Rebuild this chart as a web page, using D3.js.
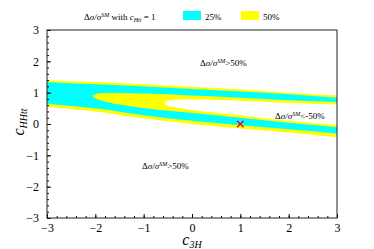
<!DOCTYPE html>
<html>
<head>
<meta charset="utf-8">
<script src="https://cdn.jsdelivr.net/npm/d3@7"></script>
<style>
  body { margin: 0; background: #fff; }
  svg text { font-family: "Liberation Serif", "Times New Roman", serif; fill: #000; }
</style>
</head>
<body>
<svg width="374" height="249"></svg>
<script>
// Contour boundaries (c_HHtt at given c_3H)
var c3H = [-3, -2, -1, 0, 1, 2, 3];
var yellowTop = [1.40, 1.34, 1.27, 1.19, 1.10, 1.00, 0.91];
var cyanTop = [1.33, 1.27, 1.20, 1.12, 1.04, 0.95, 0.84];
var cyanBottom = [0.65, 0.50, 0.28, 0.10, -0.04, -0.17, -0.30];
var yellowBottom = [0.55, 0.40, 0.18, 0.00, -0.14, -0.27, -0.42];

// inner 25% -> 50% tongue (yellow inside cyan)
var tongue25X = [-2.06, -2.0, -1.9, -1.5, -1, 0, 1, 2, 3];
var tongue25Top = [0.89, 0.95, 0.98, 0.99, 0.97, 0.91, 0.84, 0.76, 0.70];
var tongue25Bottom = [0.89, 0.81, 0.76, 0.62, 0.51, 0.35, 0.20, 0.04, -0.10];

// inner 50% tongue (white inside yellow)
var tongue50X = [-0.59, -0.5, -0.3, 0, 1, 2, 3];
var tongue50Top = [0.66, 0.75, 0.78, 0.78, 0.74, 0.67, 0.62];
var tongue50Bottom = [0.66, 0.58, 0.52, 0.45, 0.28, 0.10, -0.03];

var smPoint = [1, 0];
var tickValues = [-3, -2, -1, 0, 1, 2, 3];
var legendItems = [["25%", "#00ffff"], ["50%", "#ffff00"]];

var svg = d3.select("svg");
var x = d3.scaleLinear().domain([-3, 3]).range([47, 337]);
var y = d3.scaleLinear().domain([-3, 3]).range([218, 30]);

svg.append("clipPath").attr("id", "plotclip")
  .append("rect")
  .attr("x", x(-3)).attr("y", y(3))
  .attr("width", x(3) - x(-3)).attr("height", y(-3) - y(3));

var g = svg.append("g").attr("clip-path", "url(#plotclip)");

function band(xs, top, bottom) {
  return d3.area()
    .x(function (d, i) { return x(xs[i]); })
    .y0(function (d, i) { return y(bottom[i]); })
    .y1(function (d, i) { return y(top[i]); })
    .curve(d3.curveMonotoneX)(xs);
}

// layered fills: yellow (<50%), cyan (<25%), then tongues cut back out
g.append("path").attr("d", band(c3H, yellowTop, yellowBottom)).attr("fill", "#ffff00");
g.append("path").attr("d", band(c3H, cyanTop, cyanBottom)).attr("fill", "#00ffff");
g.append("path").attr("d", band(tongue25X, tongue25Top, tongue25Bottom)).attr("fill", "#ffff00");
g.append("path").attr("d", band(tongue50X, tongue50Top, tongue50Bottom)).attr("fill", "#ffffff");

// SM point
svg.append("path")
  .attr("d", d3.symbol(d3.symbolTimes, 30)())
  .attr("transform", "translate(" + x(smPoint[0]) + "," + y(smPoint[1]) + ")")
  .attr("fill", "none").attr("stroke", "#ff0000").attr("stroke-width", 1.3);

// axes: major + minor ticks, pointing inwards
var minor = d3.range(-3, 3.001, 0.2);

svg.append("g").attr("transform", "translate(0," + y(-3) + ")")
  .call(d3.axisBottom(x).tickValues(minor).tickSize(-2).tickFormat(""))
  .call(function (s) { s.select(".domain").remove(); });
svg.append("g").attr("transform", "translate(" + x(-3) + ",0)")
  .call(d3.axisLeft(y).tickValues(minor).tickSize(-2).tickFormat(""))
  .call(function (s) { s.select(".domain").remove(); });

var fmt = d3.format("d");
var xAxis = svg.append("g").attr("transform", "translate(0," + y(-3) + ")")
  .call(d3.axisBottom(x).tickValues(tickValues).tickFormat(fmt)
    .tickSizeInner(-4).tickSizeOuter(0).tickPadding(5));
var yAxis = svg.append("g").attr("transform", "translate(" + x(-3) + ",0)")
  .call(d3.axisLeft(y).tickValues(tickValues).tickFormat(fmt)
    .tickSizeInner(-4).tickSizeOuter(0).tickPadding(8));
[xAxis, yAxis].forEach(function (a) {
  a.attr("font-family", null);
  a.selectAll("text").attr("font-size", 12);
  a.select(".domain").remove();
});

svg.append("rect")
  .attr("x", x(-3)).attr("y", y(3))
  .attr("width", x(3) - x(-3)).attr("height", y(-3) - y(3))
  .attr("fill", "none").attr("stroke", "#222").attr("stroke-width", 1);

// axis titles
var xt = svg.append("text").attr("x", 192).attr("y", 245).attr("text-anchor", "middle");
xt.append("tspan").attr("font-style", "italic").attr("font-size", 16).text("c");
xt.append("tspan").attr("font-style", "italic").attr("font-size", 10).attr("dy", 3).text("3H");

var yt = svg.append("text").attr("transform", "translate(24,122) rotate(-90)").attr("text-anchor", "middle");
yt.append("tspan").attr("font-style", "italic").attr("font-size", 16).text("c");
yt.append("tspan").attr("font-style", "italic").attr("font-size", 10).attr("dy", 3).text("HHtt");

// Δσ/σ^SM labels
function dsLabel(px, py, rest) {
  var t = svg.append("text").attr("x", px).attr("y", py).attr("font-size", 9);
  t.append("tspan").text("Δ");
  t.append("tspan").attr("font-style", "italic").text("σ/σ");
  t.append("tspan").attr("font-style", "italic").attr("font-size", 6).attr("dy", -3.5).text("SM");
  var r = t.append("tspan").attr("dy", 3.5);
  return { text: t, rest: r.text(rest) };
}

dsLabel(200, 66, ">50%");
dsLabel(275, 119, "<-50%");
dsLabel(142, 169, ">50%");

// legend
var title = dsLabel(84, 20, " with ");
title.text.append("tspan").attr("font-style", "italic").text("c");
title.text.append("tspan").attr("font-style", "italic").attr("font-size", 6).attr("dy", 2).text("Htt");
title.text.append("tspan").attr("dy", -2).text(" = 1");

var leg = svg.selectAll(".leg").data(legendItems).enter().append("g")
  .attr("transform", function (d, i) { return "translate(" + (183 + i * 58) + ",11)"; });
leg.append("rect").attr("width", 18).attr("height", 9).attr("fill", function (d) { return d[1]; });
leg.append("text").attr("x", 22).attr("y", 9).attr("font-size", 9).text(function (d) { return d[0]; });
</script>
</body>
</html>
